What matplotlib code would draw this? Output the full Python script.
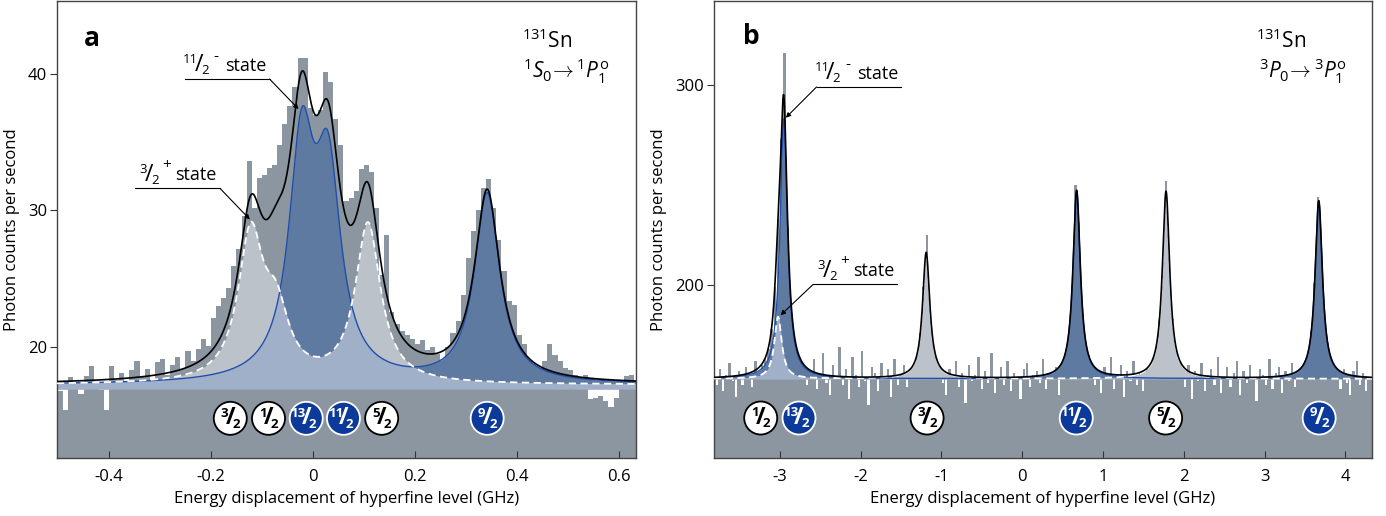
import numpy as np
import matplotlib
matplotlib.use('Agg')
import matplotlib.pyplot as plt

plt.rcParams['font.family'] = ['Open Sans', 'DejaVu Sans']
plt.rcParams['mathtext.fontset'] = 'custom'
plt.rcParams['mathtext.rm'] = 'Open Sans'
plt.rcParams['mathtext.it'] = 'Open Sans:italic'
plt.rcParams['mathtext.bf'] = 'Open Sans:bold'

# Colours
GRAY = '#8c96a0'
DARK_BLUE_FILL = '#5f7aa0'
LIGHT_GRAY_FILL = '#bcc2ca'
LIGHT_BLUE_FILL = '#a0b0c8'
BLUE_LINE = '#1f4fae'
BADGE_BLUE = '#0b3a9a'

# ---------------- panel a : 1S0 -> 1P1 ----------------
a_start, a_step = -0.50, 0.01          # histogram binning (GHz)
a_counts = [
    16.8, 15.4, 17.8, 17.2, 16.6, 17.9, 18.6, 17.4, 16.9, 15.4,
    18.6, 17.6, 18.1, 17.2, 18.3, 19.0, 17.8, 18.4, 17.6, 18.9,
    19.1, 18.0, 18.7, 19.3, 18.4, 19.7, 19.0, 19.9, 20.6, 20.1,
    22.1, 23.0, 23.6, 24.3, 25.9, 27.2, 29.6, 33.6, 30.2, 32.4,
    32.6, 33.1, 33.3, 34.8, 36.3, 37.6, 39.0, 41.1, 41.1, 37.5,
    37.0, 37.3, 40.1, 39.4, 36.7, 34.8, 30.7, 30.9, 31.4, 33.0,
    33.3, 32.8, 30.2, 25.3, 28.2, 22.6, 21.7, 21.2, 20.9, 20.6,
    20.2, 20.5, 19.8, 20.0, 19.5, 19.0, 20.0, 21.0, 21.9, 23.8,
    26.5, 28.5, 30.0, 31.6, 32.3, 30.2, 27.8, 25.6, 23.4, 23.1,
    20.9, 20.2, 19.0, 18.6, 18.5, 19.0, 20.2, 19.4, 19.0, 18.5,
    18.3, 18.0, 17.8, 18.0, 16.2, 16.3, 16.4, 16.1, 15.6, 16.3,
    17.3, 17.9, 18.0,
]
a_bg = 17.25
a_floor = 16.95
a_fwhm = 0.06
# 3/2+ state components (I = 3/2, 1/2, 5/2)
a_low_pos = [-0.122, -0.072, 0.108]
a_low_amp = [10.5, 4.5, 11.6]
# 11/2- state components (I = 13/2, 11/2, 9/2)
a_high_pos = [-0.022, 0.030, 0.342]
a_high_amp = [16.6, 14.2, 13.8]
a_badge_pos = [-0.162, -0.087, -0.013, 0.060, 0.135, 0.342]
a_badge_num = ['3', '1', '13', '11', '5', '9']
a_badge_blue = [False, False, True, True, False, True]
a_xlim = (-0.502, 0.634)
a_ylim = (11.9, 45.3)
a_xticks = [-0.4, -0.2, 0, 0.2, 0.4, 0.6]
a_xticklabels = ['-0.4', '-0.2', '0', '0.2', '0.4', '0.6']
a_yticks = [20, 30, 40]

# ---------------- panel b : 3P0 -> 3P1 ----------------
b_start, b_step = -3.80, 0.04
b_counts = [
    150, 158, 147, 155, 161, 152, 144, 157, 150, 159,
    154, 149, 162, 156, 160, 163, 168, 178, 199, 233,
    273, 316, 229, 191, 175, 166, 162, 159, 150, 157,
    163, 148, 156, 166, 151, 145, 160, 154, 169, 150,
    158, 143, 164, 155, 149, 167, 152, 140, 159, 156,
    147, 161, 153, 158, 144, 163, 150, 155, 160, 149,
    157, 160, 165, 176, 199, 225, 190, 171, 163, 159,
    151, 145, 158, 153, 162, 149, 156, 141, 160, 152,
    155, 164, 148, 157, 151, 166, 146, 154, 159, 150,
    162, 147, 156, 153, 143, 158, 161, 149, 155, 157,
    151, 163, 148, 156, 154, 159, 145, 161, 166, 177,
    200, 250, 231, 192, 173, 165, 161, 150, 157, 146,
    159, 153, 164, 148, 155, 160, 144, 157, 152, 162,
    150, 156, 147, 158, 154, 163, 169, 183, 213, 252,
    215, 183, 169, 163, 155, 149, 160, 143, 157, 152,
    161, 147, 155, 158, 150, 164, 146, 153, 159, 149,
    156, 162, 145, 157, 151, 160, 154, 142, 158, 155,
    150, 163, 148, 156, 159, 146, 157, 152, 161, 149,
    155, 158, 161, 166, 177, 201, 244, 222, 188, 171,
    164, 160, 154, 148, 158, 151, 145, 157, 162, 150,
    156, 147, 153,
]
b_bg = 153.0
b_floor = 153.0
b_fwhm = 0.11
b_low_pos = [-3.02, -1.187, 1.781]
b_low_amp = [31, 63, 93.5]
b_high_pos = [-2.95, 0.675, 3.671]
b_high_amp = [130, 94, 89]
b_badge_pos = [-3.235, -2.761, -1.176, 0.670, 1.776, 3.676]
b_badge_num = ['1', '13', '3', '11', '5', '9']
b_badge_blue = [False, True, False, True, False, True]
b_xlim = (-3.813, 4.33)
b_ylim = (113.4, 342.0)
b_xticks = [-3, -2, -1, 0, 1, 2, 3, 4]
b_xticklabels = ['-3', '-2', '-1', '0', '1', '2', '3', '4']
b_yticks = [200, 300]


def lorentz(x, pos, amp, fwhm):
    hw = fwhm / 2.0
    return sum(a / (1.0 + ((x - p) / hw) ** 2) for p, a in zip(pos, amp))


def fraction(ax, x, y, num, den, color, size, dx=0, dy=0, weight='bold'):
    """Slanted fraction (small numerator, slash, denominator) at an offset in points."""
    shift = 1.7 * (len(num) - 1)
    kw = dict(xycoords='data', textcoords='offset points', ha='center',
              va='center', color=color, fontweight=weight, zorder=7,
              annotation_clip=False)
    ax.annotate(num, (x, y), xytext=(dx - 4.1 - shift, dy + 3.7), fontsize=size, **kw)
    ax.annotate('/', (x, y), xytext=(dx, dy), fontsize=size * 1.75, **kw)
    ax.annotate(den, (x, y), xytext=(dx + 4.2, dy - 4.2), fontsize=size, **kw)


def state_label(ax, x1, x2, y, tip, num, sign, from_left):
    ax.plot([x1, x2], [y, y], color='black', lw=0.8, zorder=6)
    fraction(ax, x1, y, num, '2', 'black', 9.5, dx=10, dy=10, weight='normal')
    ax.annotate(sign, (x1, y), xytext=(22.5, 16.5), textcoords='offset points',
                ha='center', va='center', fontsize=11, zorder=7)
    ax.annotate('state', (x1, y), xytext=(29, 9.5), textcoords='offset points',
                ha='left', va='center', fontsize=13, zorder=7)
    start = (x1, y) if from_left else (x2, y)
    ax.annotate('', xy=tip, xytext=start,
                arrowprops=dict(arrowstyle='-|>', lw=0.8, color='black',
                                mutation_scale=7, shrinkA=0, shrinkB=0),
                zorder=6)


def draw_panel(ax, start, step, counts, bg, floor, fwhm, low_pos, low_amp,
               high_pos, high_amp, xlim, ylim, bar_frac):
    counts = np.asarray(counts, dtype=float)
    centres = start + step * (np.arange(len(counts)) + 0.5)
    heights = counts - floor
    colours = [GRAY if h > 0 else 'white' for h in heights]
    ax.axhspan(ylim[0] - 50, floor, color=GRAY, lw=0, zorder=0)
    ax.bar(centres, heights, width=step * bar_frac, bottom=floor, color=colours,
           linewidth=0, zorder=1)

    x = np.linspace(xlim[0], xlim[1], 3000)
    low = bg + lorentz(x, low_pos, low_amp, fwhm)
    high = bg + lorentz(x, high_pos, high_amp, fwhm)
    total = low + high - bg
    ax.fill_between(x, floor, high, color=DARK_BLUE_FILL, lw=0, zorder=2)
    ax.fill_between(x, floor, low, color=LIGHT_GRAY_FILL, lw=0, zorder=2.1)
    ax.fill_between(x, floor, np.minimum(low, high), color=LIGHT_BLUE_FILL,
                    lw=0, zorder=2.2)
    ax.plot(x, high, color=BLUE_LINE, lw=1.0, zorder=3)
    ax.plot(x, low, color='white', lw=1.3, ls=(0, (4, 2.5)), zorder=3.1)
    ax.plot(x, total, color='black', lw=1.2, zorder=4)

    ax.set_xlim(xlim)
    ax.set_ylim(ylim)


def draw_badges(ax, pos, nums, blue, y):
    face = [BADGE_BLUE if b else 'white' for b in blue]
    edge = ['white' if b else 'black' for b in blue]
    ax.scatter(pos, [y] * len(pos), s=565, c=face, edgecolors=edge,
               linewidths=1.3, zorder=5)
    for p, n, b in zip(pos, nums, blue):
        fraction(ax, p, y, n, '2', 'white' if b else 'black', 9.5)


def style_axes(ax, xticks, xticklabels, yticks):
    ax.set_xticks(xticks)
    ax.set_xticklabels(xticklabels)
    ax.set_yticks(yticks)
    ax.tick_params(axis='x', direction='in', length=5, width=0.8,
                   labelsize=12, pad=8, color='#333333')
    ax.tick_params(axis='y', direction='out', length=5, width=0.8,
                   labelsize=12, pad=2, color='#333333')
    for s in ax.spines.values():
        s.set_color('#444444')
        s.set_linewidth(1.0)
    ax.set_xlabel('Energy displacement of hyperfine level (GHz)', fontsize=12,
                  labelpad=4)
    ax.set_ylabel('Photon counts per second', fontsize=12, labelpad=6)


fig = plt.figure(figsize=(13.86, 5.16), dpi=100)
ax_a = fig.add_axes([57 / 1386, 58 / 516, 579 / 1386, 457 / 516])
ax_b = fig.add_axes([714 / 1386, 58 / 516, 658 / 1386, 457 / 516])

# panel a
draw_panel(ax_a, a_start, a_step, a_counts, a_bg, a_floor, a_fwhm,
           a_low_pos, a_low_amp, a_high_pos, a_high_amp, a_xlim, a_ylim,
           bar_frac=1.0)
draw_badges(ax_a, a_badge_pos, a_badge_num, a_badge_blue, 14.8)
state_label(ax_a, -0.251, -0.085, 39.6, (-0.028, 37.4), '11', '-', False)
state_label(ax_a, -0.349, -0.182, 31.6, (-0.1235, 29.33), '3', '+', False)
style_axes(ax_a, a_xticks, a_xticklabels, a_yticks)
ax_a.text(0.06, 0.919, 'a', transform=ax_a.transAxes, fontsize=19,
          fontweight='bold', ha='center', va='center')
ax_a.text(0.846, 0.912, r'$^{131}$Sn', transform=ax_a.transAxes, fontsize=15,
          ha='center', va='center')
ax_a.text(0.88, 0.846, r'$^{1}S_{0}\!\rightarrow{}^{1}P_{1}^{\mathrm{o}}$',
          transform=ax_a.transAxes, fontsize=15, ha='center', va='center')

# panel b
draw_panel(ax_b, b_start, b_step, b_counts, b_bg, b_floor, b_fwhm,
           b_low_pos, b_low_amp, b_high_pos, b_high_amp, b_xlim, b_ylim,
           bar_frac=0.7)
draw_badges(ax_b, b_badge_pos, b_badge_num, b_badge_blue, 133.4)
state_label(ax_b, -2.544, -1.498, 299.0, (-2.925, 283.6), '11', '-', True)
state_label(ax_b, -2.587, -1.552, 200.2, (-2.99, 184.8), '3', '+', True)
style_axes(ax_b, b_xticks, b_xticklabels, b_yticks)
ax_b.text(0.056, 0.922, 'b', transform=ax_b.transAxes, fontsize=19,
          fontweight='bold', ha='center', va='center')
ax_b.text(0.862, 0.912, r'$^{131}$Sn', transform=ax_b.transAxes, fontsize=15,
          ha='center', va='center')
ax_b.text(0.895, 0.846, r'$^{3}P_{0}\!\rightarrow{}^{3}P_{1}^{\mathrm{o}}$',
          transform=ax_b.transAxes, fontsize=15, ha='center', va='center')

fig.savefig('out.png', dpi=100)
